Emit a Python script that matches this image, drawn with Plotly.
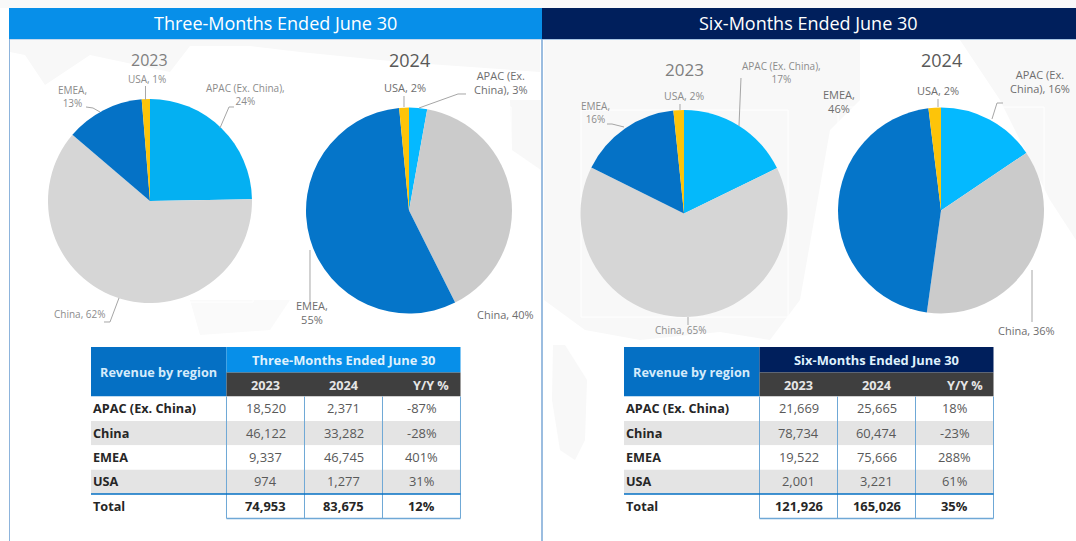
import plotly.graph_objects as go

W, H = 1076, 541
regions = ["APAC (Ex. China)", "China", "EMEA", "USA"]
q_2023 = [18520, 46122, 9337, 974]
q_2024 = [2371, 33282, 46745, 1277]
q_yoy = ["-87%", "-28%", "401%", "31%"]
q_total = ["74,953", "83,675", "12%"]
h_2023 = [21669, 78734, 19522, 2001]
h_2024 = [25665, 60474, 75666, 3221]
h_yoy = ["18%", "-23%", "288%", "61%"]
h_total = ["121,926", "165,026", "35%"]
panel_titles = ["Three-Months Ended June 30", "Six-Months Ended June 30"]
years = ["2023", "2024"]
colors_q23 = ["#04b0f2", "#d6d6d6", "#0572c6", "#fdc409"]
colors_h23 = ["#04b9fb", "#d6d6d6", "#0572c6", "#fdc409"]
colors_24 = ["#04b9ff", "#cbcbcb", "#0575c9", "#fdc409"]

BLUE, NAVY, MID, DARK = "#078fe9", "#001f5c", "#0570c4", "#3f3f3f"
LINE = "#6fa8d6"

def X(p): return p / W
def Y(p): return 1 - p / H

fig = go.Figure()
shapes, ann = [], []

def rect(x0, y0, x1, y1, fill, line=None, lw=0, layer="below"):
    shapes.append(dict(type="rect", xref="paper", yref="paper", x0=X(x0), x1=X(x1), y0=Y(y1), y1=Y(y0),
                       fillcolor=fill, line=dict(color=line or fill, width=lw), layer=layer))

def seg(pts, color="#a6a6a6", lw=1, layer="above"):
    path = " ".join(("M" if i == 0 else "L") + f"{X(a):.5f},{Y(b):.5f}" for i, (a, b) in enumerate(pts))
    shapes.append(dict(type="path", xref="paper", yref="paper", path=path, line=dict(color=color, width=lw), layer=layer))

def text(x, y, t, size=10, color="#7f7f7f", weight=None, anchor="center"):
    s = f"<b>{t}</b>" if weight else t
    ann.append(dict(x=X(x), y=Y(y), xref="paper", yref="paper", text=s, showarrow=False, xanchor=anchor, yanchor="middle",
                    font=dict(family="Open Sans", size=size, color=color), align="center", borderpad=0))

# faint world-map backdrop
def blob(pts, c="#f8f8f8"):
    path = " ".join(("M" if i == 0 else "L") + f"{X(a):.5f},{Y(b):.5f}" for i, (a, b) in enumerate(pts)) + " Z"
    shapes.append(dict(type="path", xref="paper", yref="paper", path=path, fillcolor=c, line=dict(width=0), layer="below"))

rect(0, 0, W, 8, "#f9f9f9")
blob([(10, 40), (540, 40), (540, 72), (400, 62), (300, 52), (250, 46), (190, 46), (170, 72), (90, 55), (45, 85), (25, 55), (10, 52)])
blob([(510, 100), (541, 100), (541, 170), (512, 150)])
blob([(544, 40), (860, 40), (860, 100), (830, 130), (800, 300), (770, 340), (720, 332), (640, 340), (585, 330), (544, 300)])
blob([(960, 40), (1076, 40), (1076, 240), (1050, 200), (1000, 100)])
blob([(553, 345), (565, 345), (587, 380), (585, 440), (575, 460), (560, 450), (552, 400)])
blob([(190, 300), (290, 300), (270, 330), (200, 335)], "#fafafa")

# faint white chart frames
for a, b, c, d in [(47, 99, 253, 302), (306, 107, 511, 314), (581, 110, 788, 317), (838, 107, 1044, 313)]:
    rect(a, b, c, d, "rgba(0,0,0,0)", "#ffffff", 1)

# panels
rect(9.5, 39, 542, 560, "rgba(0,0,0,0)", "#8db4dc", 1)
rect(542, 39, 1090, 560, "rgba(0,0,0,0)", "#8db4dc", 1.5)
rect(9, 8, 542, 39, BLUE)
rect(542, 8, 1076, 39, NAVY)
text(275.5, 23.5, panel_titles[0], 18, "#ffffff")
text(808, 23.5, panel_titles[1], 18, "#ffffff")

# pies: center x, center y, radius
pies = [
    (150, 201, 102, q_2023, colors_q23, 149, 60.5, "#7f7f7f", 16, years[0]),
    (409, 210.5, 103, q_2024, colors_24, 409, 60.5, "#595959", 18, years[1]),
    (684, 213.5, 103.5, h_2023, colors_h23, 684, 69, "#7f7f7f", 17, years[0]),
    (941, 210.5, 103, h_2024, colors_24, 941, 60.5, "#595959", 18, years[1]),
]
for cx, cy, r, vals, cols, tx, ty, tc, ts, yr in pies:
    fig.add_trace(go.Pie(labels=regions, values=vals, sort=False, direction="clockwise", rotation=0,
                         marker=dict(colors=cols, line=dict(width=0)), textinfo="none", showlegend=False,
                         domain=dict(x=[X(cx - r), X(cx + r)], y=[Y(cy + r), Y(cy - r)])))
    text(tx, ty, yr, ts, tc)

small = "#8c8c8c"
text(147, 79.5, "USA, 1%", 10, small)
text(72, 96.5, "EMEA,<br>13%", 10, small)
text(246, 94.5, "APAC (Ex. China),<br>24%", 10, small)
text(80, 314, "China, 62%", 10, small)
seg([(145.5, 100), (145.5, 86)])
seg([(86, 107), (93, 108), (100, 112)])
seg([(220, 128), (229, 107), (234, 107)])
seg([(119, 298), (110, 322), (104, 322)])

mid = "#6e6e6e"
text(405, 87.5, "USA, 2%", 11, mid)
text(501, 82, "APAC (Ex.<br>China), 3%", 11, mid)
text(505, 314, "China, 40%", 11, mid)
text(312, 312, "EMEA,<br>55%", 11, mid)
seg([(404, 107), (404, 96)])
seg([(419, 108), (458, 94), (466, 94)])
seg([(310, 250), (310, 302)])

text(684, 96, "USA, 2%", 10.5, small)
text(595, 113, "EMEA,<br>16%", 10, small)
text(781, 72, "APAC (Ex. China),<br>17%", 10, small)
text(681, 330, "China, 65%", 10, small)
seg([(680, 110), (680, 104)])
seg([(624, 127), (612, 124), (607, 124)])
seg([(739, 126), (741, 78)])
seg([(688, 317), (688, 325)])

text(839, 101.5, "EMEA,<br>46%", 11, mid)
text(938, 90, "USA, 2%", 11, mid)
text(1040, 81, "APAC (Ex.<br>China), 16%", 11, mid)
text(1026, 330, "China, 36%", 11, mid)
seg([(938, 107), (938, 99)])
seg([(992, 119), (997, 103), (1003, 103)])
seg([(1032, 270), (1032, 322)])

def fmt(v): return f"{v:,}"

def table(x0, col_title, title_fill, a, b, yoy, total):
    c = [x0, x0 + 135.5, x0 + 213.5, x0 + 291.5, x0 + 369.5]
    top, h1, h2, hr = 347, 372.5, 396.5, 24.4
    rect(c[0], top, c[1], h2, MID, layer="above")
    rect(c[1], top, c[4], h1, title_fill, layer="above")
    rect(c[1], h1, c[4], h2, DARK, layer="above")
    text((c[0] + c[1]) / 2, 372, "Revenue by region", 12.7, "#d5ebfb", True)
    text((c[1] + c[4]) / 2, 359.5, col_title, 12.9, "#dff1fd", True)
    text((c[1] + c[2]) / 2, 384.5, years[0], 12.7, "#e6e6e6", True)
    text((c[2] + c[3]) / 2, 384.5, years[1], 12.7, "#e6e6e6", True)
    text((c[3] + c[4]) / 2 + 10, 384.5, "Y/Y %", 12.7, "#e6e6e6", True)
    names = regions + ["Total"]
    col1 = [fmt(v) for v in a] + [total[0]]
    col2 = [fmt(v) for v in b] + [total[1]]
    col3 = list(yoy) + [total[2]]
    for i in range(5):
        y0 = h2 + i * hr
        rect(c[0], y0, c[4], y0 + hr, "#e4e4e4" if i % 2 else "#ffffff", layer="above")
    for i in range(5):
        yc = h2 + (i + 0.5) * hr - 0.5
        bold = i == 4
        tc = "#262626" if bold else "#595959"
        text(c[0] + 0.5, yc, names[i], 12.7, "#262626", True, anchor="left")
        text((c[1] + c[2]) / 2, yc, col1[i], 12.9, tc, bold)
        text((c[2] + c[3]) / 2, yc, col2[i], 12.9, tc, bold)
        text((c[3] + c[4]) / 2, yc, col3[i], 12.9, tc, bold)
    for xx in c[1:]:
        seg([(xx, h2), (xx, h2 + 5 * hr)], LINE, 1)
    seg([(c[1], h2 + 5 * hr), (c[4], h2 + 5 * hr)], LINE, 1.5)
    seg([(c[0], h2 + 4 * hr), (c[4], h2 + 4 * hr)], "#0570c4", 1.5)

table(91, panel_titles[0], BLUE, q_2023, q_2024, q_yoy, q_total)
table(624, panel_titles[1], NAVY, h_2023, h_2024, h_yoy, h_total)

fig.update_layout(width=W, height=H, margin=dict(l=0, r=0, t=0, b=0), paper_bgcolor="#ffffff",
                  shapes=shapes, annotations=ann, showlegend=False)
fig.write_html("out.html", config={"displayModeBar": False},
               post_script="document.body.style.margin='0';document.body.style.overflow='hidden';")
